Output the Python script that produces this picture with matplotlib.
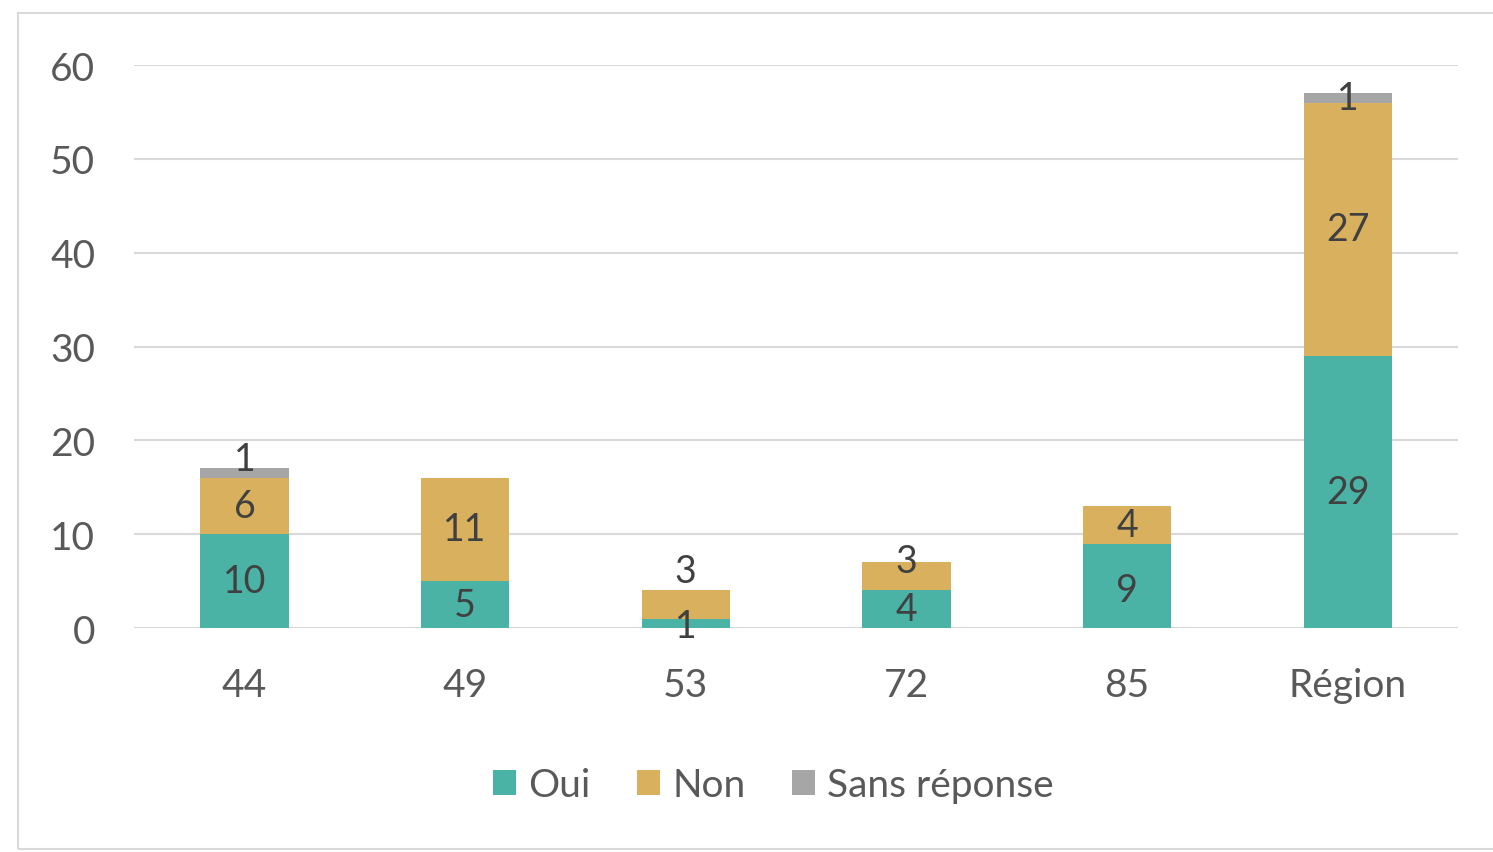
import numpy as np
import matplotlib.pyplot as plt
from matplotlib.patches import Rectangle

# Data
categories = ["44", "49", "53", "72", "85", "Région"]
oui = [10, 5, 1, 4, 9, 29]
non = [6, 11, 3, 3, 4, 27]
sans_reponse = [1, 0, 0, 0, 0, 1]

series_names = ["Oui", "Non", "Sans réponse"]
colors = ["#4bb3a5", "#d8b05e", "#a6a6a6"]

# label nudges (data units) for the small segments, as in the original
nudges = {(0, 2): 1.5, (2, 1): 3.6, (2, 0): -0.3, (3, 1): 1.6, (4, 0): -0.4}

plt.rcParams["font.family"] = ["Lato", "DejaVu Sans"]
text_color = "#595959"


def main():
    fig = plt.figure(figsize=(14.93, 8.53), dpi=100)
    ax = fig.add_axes([0.0898, 0.2626, 0.8868, 0.66])

    x = np.arange(len(categories))
    series = [oui, non, sans_reponse]
    bottom = np.zeros(len(categories))
    for s, (vals, name, col) in enumerate(zip(series, series_names, colors)):
        vals = np.array(vals, dtype=float)
        ax.bar(x, vals, 0.4, bottom=bottom, color=col, label=name, zorder=3)
        for i, v in enumerate(vals):
            if v > 0:
                y = bottom[i] + v / 2 + nudges.get((i, s), 0)
                ax.text(x[i], y, f"{int(v)}", ha="center", va="center",
                        fontsize=27, color="#404040", zorder=4)
        bottom += vals

    ax.set_xlim(-0.5, len(categories) - 0.5)
    ax.set_ylim(0, 60)
    ax.set_yticks(range(0, 61, 10))
    ax.set_xticks(x)
    ax.set_xticklabels(categories)
    ax.tick_params(axis="both", length=0, labelsize=28, labelcolor=text_color)
    ax.tick_params(axis="x", pad=28)
    ax.tick_params(axis="y", pad=28)
    ax.grid(axis="y", color="#d9d9d9", linewidth=1.5, zorder=0)
    for sp in ax.spines.values():
        sp.set_visible(False)

    leg = fig.legend(loc="center", bbox_to_anchor=(0.518, 0.078), ncol=3,
                     frameon=False, fontsize=28, handlelength=0.6,
                     handleheight=0.6, handletextpad=0.3, columnspacing=1.2)
    for t in leg.get_texts():
        t.set_color(text_color)

    fig.patches.append(Rectangle((18 / 1493, 3 / 853), 1.2, 836 / 853,
                                 transform=fig.transFigure, fill=False,
                                 edgecolor="#d9d9d9", linewidth=1.5))

    fig.savefig("out.png", dpi=100)


if __name__ == "__main__":
    main()
